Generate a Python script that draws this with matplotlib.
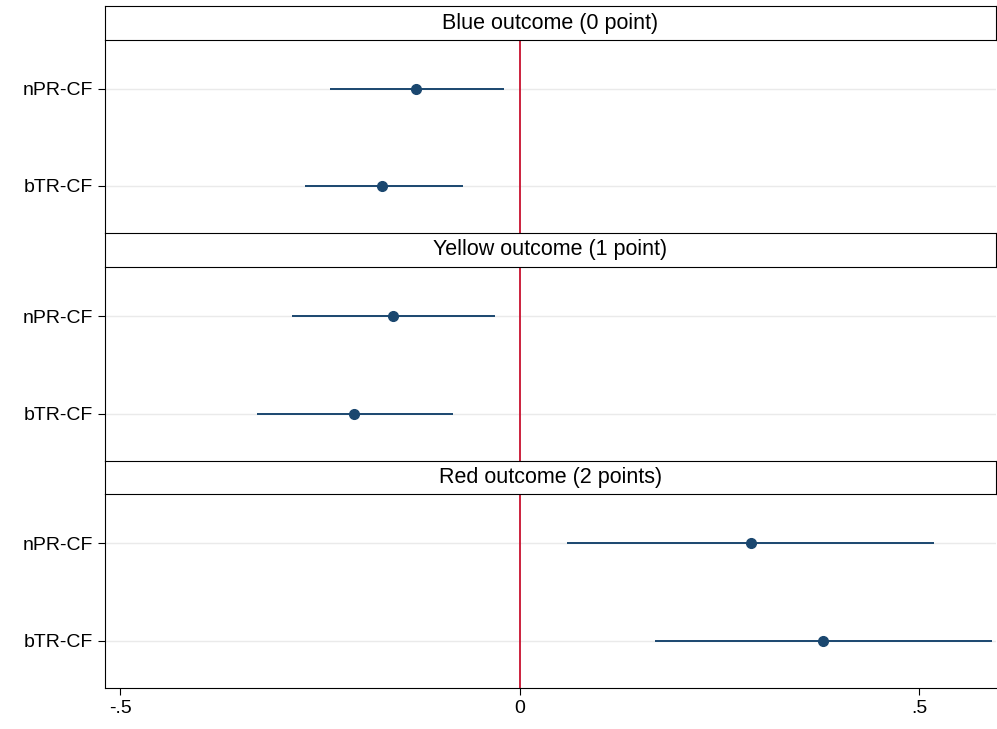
import matplotlib.pyplot as plt

plt.rcParams['font.family'] = ['Liberation Sans', 'DejaVu Sans']

titles = ['Blue outcome (0 point)', 'Yellow outcome (1 point)', 'Red outcome (2 points)']
labels = ['nPR-CF', 'bTR-CF']
est = [[-0.130, -0.1725], [-0.159, -0.2075], [0.289, 0.379]]
lo = [[-0.2375, -0.269], [-0.285, -0.329], [0.059, 0.169]]
hi = [[-0.020, -0.071], [-0.031, -0.084], [0.519, 0.591]]

W, H = 997, 729
fig = plt.figure(figsize=(W / 100, H / 100), dpi=100)
left, right = 105, 996
headers = [(6, 40), (233, 267), (461, 494)]
panels = [(40, 233), (267, 461), (494, 688)]
col = '#1a476f'

for i in range(3):
    p0, p1 = panels[i]
    ax = fig.add_axes([left / W, 1 - p1 / H, (right - left) / W, (p1 - p0) / H])
    ax.patch.set_alpha(0)
    ypos = [1, 0]
    for y in ypos:
        ax.axhline(y, color='#eaeaea', lw=1, zorder=0)
    ax.axvline(0, color='#c8102e', lw=1.3, zorder=1)
    ax.hlines(ypos, lo[i], hi[i], color=col, lw=1.4, zorder=2)
    ax.plot(est[i], ypos, 'o', color=col, ms=7, zorder=3)
    ax.set_xlim(-0.519, 0.596)
    ax.set_ylim(-0.485, 1.505)
    ax.set_yticks(ypos)
    ax.set_yticklabels(labels, fontsize=14)
    ax.tick_params(axis='both', length=5, width=0.8)
    ax.spines['top'].set_visible(False)
    ax.spines['right'].set_visible(False)
    if i < 2:
        ax.spines['bottom'].set_visible(False)
        ax.set_xticks([])
    else:
        ax.set_xticks([-0.5, 0, 0.5])
        ax.set_xticklabels(['-.5', '0', '.5'], fontsize=14)

    h0, h1 = headers[i]
    hax = fig.add_axes([left / W, 1 - h1 / H, (right - left) / W, (h1 - h0) / H])
    hax.set_xticks([]); hax.set_yticks([])
    hax.text(0.5, 0.5, titles[i], ha='center', va='center', fontsize=15.5, transform=hax.transAxes)

fig.savefig('out.png', dpi=100)
